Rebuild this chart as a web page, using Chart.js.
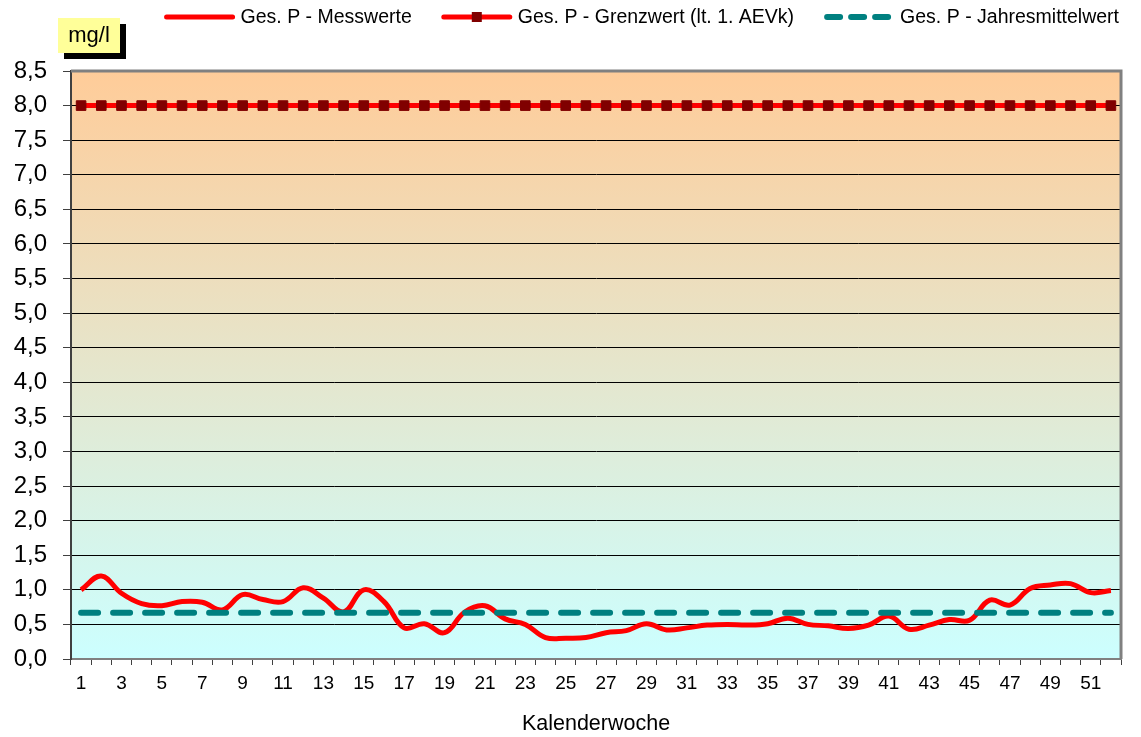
<!DOCTYPE html>
<html>
<head>
<meta charset="utf-8">
<script src="https://cdn.jsdelivr.net/npm/chart.js@4.4.1/dist/chart.umd.min.js"></script>
<style>
    html, body { margin: 0; padding: 0; background: #fff; }
</style>
</head>
<body>
<canvas id="chart" width="1141" height="737"></canvas>
<script>
const weeks = ['1', '2', '3', '4', '5', '6', '7', '8', '9', '10', '11', '12', '13',
    '14', '15', '16', '17', '18', '19', '20', '21', '22', '23', '24', '25', '26',
    '27', '28', '29', '30', '31', '32', '33', '34', '35', '36', '37', '38', '39',
    '40', '41', '42', '43', '44', '45', '46', '47', '48', '49', '50', '51', '52'];

const messwerte = [1.0, 1.2, 0.95, 0.8, 0.77, 0.83, 0.82, 0.71, 0.93, 0.86,
    0.83, 1.03, 0.88, 0.68, 1.0, 0.83, 0.45, 0.51, 0.38, 0.68,
    0.77, 0.58, 0.5, 0.31, 0.3, 0.31, 0.38, 0.41, 0.51, 0.42,
    0.45, 0.49, 0.5, 0.49, 0.51, 0.59, 0.5, 0.48, 0.44, 0.49,
    0.62, 0.43, 0.49, 0.57, 0.56, 0.85, 0.78, 1.02, 1.07, 1.09,
    0.96, 0.99];

const grenzwert = [8, 8, 8, 8, 8, 8, 8, 8, 8, 8, 8, 8, 8, 8, 8, 8, 8, 8, 8, 8,
    8, 8, 8, 8, 8, 8, 8, 8, 8, 8, 8, 8, 8, 8, 8, 8, 8, 8, 8, 8,
    8, 8, 8, 8, 8, 8, 8, 8, 8, 8, 8, 8];

const jahresmittel = [0.67, 0.67, 0.67, 0.67, 0.67, 0.67, 0.67, 0.67, 0.67, 0.67,
    0.67, 0.67, 0.67, 0.67, 0.67, 0.67, 0.67, 0.67, 0.67, 0.67,
    0.67, 0.67, 0.67, 0.67, 0.67, 0.67, 0.67, 0.67, 0.67, 0.67,
    0.67, 0.67, 0.67, 0.67, 0.67, 0.67, 0.67, 0.67, 0.67, 0.67,
    0.67, 0.67, 0.67, 0.67, 0.67, 0.67, 0.67, 0.67, 0.67, 0.67,
    0.67, 0.67];

const seriesNames = ['Ges. P - Messwerte', 'Ges. P - Grenzwert (lt. 1. AEVk)', 'Ges. P - Jahresmittelwert'];
const unitLabel = 'mg/l';
const axisTitle = 'Kalenderwoche';

const FONT = "'Liberation Sans', Arial, sans-serif";

/**
 * Orange to cyan gradient behind the plot area.
 */
const plotBackground = {
    id: 'plotBackground',
    beforeDraw(chart) {
        const { ctx, chartArea: a } = chart;
        const g = ctx.createLinearGradient(0, a.top, 0, a.bottom);
        g.addColorStop(0, '#ffcc99');
        g.addColorStop(1, '#ccffff');
        ctx.save();
        ctx.fillStyle = g;
        ctx.fillRect(a.left, a.top, a.right - a.left, a.bottom - a.top);
        ctx.restore();
    }
};

/**
 * Gray top and right border of the plot area.
 */
const plotFrame = {
    id: 'plotFrame',
    afterDraw(chart) {
        const { ctx, chartArea: a } = chart;
        ctx.save();
        ctx.strokeStyle = '#808080';
        ctx.lineWidth = 3;
        ctx.beginPath();
        ctx.moveTo(a.left, a.top);
        ctx.lineTo(a.right, a.top);
        ctx.lineTo(a.right, a.bottom);
        ctx.stroke();
        ctx.restore();
    }
};

/**
 * Yellow "mg/l" box with a black shadow.
 */
const unitBox = {
    id: 'unitBox',
    afterDraw(chart) {
        const ctx = chart.ctx;
        ctx.save();
        ctx.fillStyle = '#000';
        ctx.fillRect(64, 24, 62, 35);
        ctx.fillStyle = '#ffff99';
        ctx.fillRect(58, 18, 62, 35);
        ctx.fillStyle = '#000';
        ctx.font = '22px ' + FONT;
        ctx.textAlign = 'center';
        ctx.textBaseline = 'middle';
        ctx.fillText(unitLabel, 89, 36);
        ctx.restore();
    }
};

/**
 * Legend with line samples, drawn right aligned above the plot.
 */
const lineLegend = {
    id: 'lineLegend',
    afterDraw(chart) {
        const ctx = chart.ctx;
        const y = 17;
        const sample = 70;
        ctx.save();
        ctx.font = '19.5px ' + FONT;
        ctx.textBaseline = 'middle';
        ctx.fillStyle = '#000';
        const widths = seriesNames.map(n => ctx.measureText(n).width);
        let total = 0;
        widths.forEach(w => { total += sample + 6 + w; });
        total += 30 * (seriesNames.length - 1);
        let x = 1119 - total;

        for (let i = 0; i < seriesNames.length; i++) {
            ctx.save();
            ctx.beginPath();
            if (i === 2) {
                ctx.strokeStyle = '#008080';
                ctx.lineWidth = 6;
                ctx.lineCap = 'round';
                ctx.setLineDash([13, 11]);
                ctx.moveTo(x + 3, y);
                ctx.lineTo(x + sample - 3, y);
            } else {
                ctx.strokeStyle = '#ff0000';
                ctx.lineWidth = 5;
                ctx.lineCap = 'round';
                ctx.moveTo(x + 2, y);
                ctx.lineTo(x + sample - 2, y);
            }
            ctx.stroke();
            if (i === 1) {
                ctx.fillStyle = '#800000';
                ctx.fillRect(x + sample / 2 - 5, y - 5, 10, 10);
            }
            ctx.restore();
            ctx.fillText(seriesNames[i], x + sample + 6, y + 1);
            x += sample + 6 + widths[i] + 30;
        }
        ctx.restore();
    }
};

/**
 * Format axis numbers with a decimal comma.
 *
 * @param {Number} value
 * @returns {String}
 */
function decimalComma(value) {
    return value.toFixed(1).replace('.', ',');
}

function initChart(ctx) {
    new Chart(ctx, {
        type: 'line',
        data: {
            labels: weeks,
            datasets: [{
                label: seriesNames[2],
                data: jahresmittel,
                borderColor: '#008080',
                borderWidth: 6,
                borderDash: [17, 15],
                borderCapStyle: 'round',
                pointRadius: 0,
                fill: false,
                order: 0
            }, {
                label: seriesNames[0],
                data: messwerte,
                borderColor: '#ff0000',
                borderWidth: 5,
                pointRadius: 0,
                tension: 0.4,
                fill: false,
                order: 1
            }, {
                label: seriesNames[1],
                data: grenzwert,
                borderColor: '#ff0000',
                borderWidth: 5,
                pointStyle: 'rect',
                pointRadius: 6.8,
                pointBackgroundColor: '#800000',
                pointBorderColor: '#800000',
                pointBorderWidth: 1,
                fill: false,
                order: 2
            }]
        },
        options: {
            responsive: false,
            animation: false,
            layout: { padding: { top: 71, right: 20, left: 0, bottom: 0 } },
            plugins: {
                legend: { display: false },
                tooltip: { enabled: false }
            },
            scales: {
                x: {
                    offset: true,
                    grid: {
                        offset: true,
                        drawOnChartArea: false,
                        tickLength: 6,
                        color: '#404040'
                    },
                    border: { color: '#808080', width: 2 },
                    ticks: {
                        autoSkip: false,
                        maxRotation: 0,
                        padding: 7,
                        color: '#000',
                        font: { family: FONT, size: 19 },
                        callback: (v, i) => (i % 2 === 0 ? weeks[i] : '')
                    },
                    title: {
                        display: true,
                        text: axisTitle,
                        color: '#000',
                        font: { family: FONT, size: 21.5 },
                        padding: { top: 5, bottom: 0 }
                    },
                    afterFit(scale) { scale.height = 78; }
                },
                y: {
                    min: 0,
                    max: 8.5,
                    grid: {
                        color: c => (c.tick.value === 0 || c.tick.value === 8.5) ? 'rgba(0,0,0,0)' : '#000',
                        tickColor: '#404040',
                        tickLength: 8
                    },
                    border: { color: '#404040', width: 2 },
                    ticks: {
                        stepSize: 0.5,
                        padding: 16,
                        color: '#000',
                        font: { family: FONT, size: 24 },
                        callback: v => decimalComma(v)
                    },
                    afterFit(scale) { scale.width = 71; }
                }
            }
        },
        plugins: [plotBackground, plotFrame, unitBox, lineLegend]
    });
}

initChart(document.getElementById('chart'));
</script>
</body>
</html>
